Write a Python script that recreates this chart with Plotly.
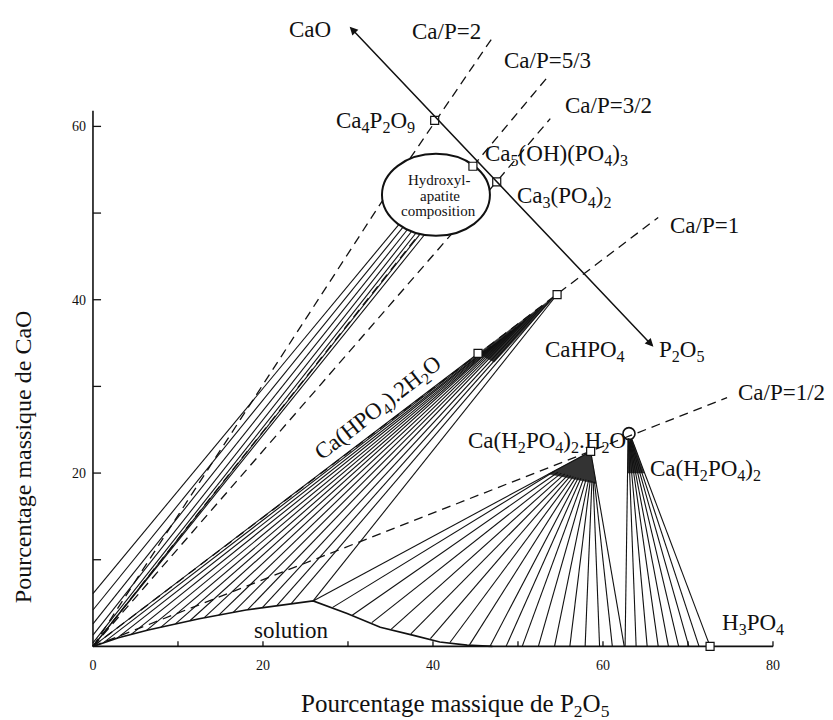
import plotly.graph_objects as go

FONT = "Liberation Serif"

# ---------------- axes -----------------
x_axis_end = 80
y_axis_end = 61.8
x_tick_vals = [0, 10, 20, 30, 40, 50, 60, 70, 80]
x_tick_text = ["0", "", "20", "", "40", "", "60", "", "80"]
y_tick_vals = [0, 10, 20, 30, 40, 50, 60]
y_tick_text = ["", "", "20", "", "40", "", "60"]

# ---------------- solution boundary (wt% P2O5, wt% CaO) -----------------
sol_x = [0, 3, 6.5, 12.5, 18, 22.5, 25.9, 29.9, 33.8, 37.6, 40.8, 44, 47]
sol_y = [0, 1.0, 1.9, 3.2, 4.2, 4.8, 5.25, 3.8, 2.2, 1.3, 0.5, 0.15, 0]

# ---------------- solid phases -----------------
sq_names = ["Ca4P2O9", "Ca5(OH)(PO4)3", "Ca3(PO4)2", "CaHPO4", "CaHPO4.2H2O",
            "Ca(H2PO4)2.H2O", "H3PO4"]
sq_x = [40.2, 44.7, 47.5, 54.6, 45.3, 58.55, 72.6]
sq_y = [60.7, 55.4, 53.6, 40.6, 33.8, 22.5, 0]
circ_x = [63.06]
circ_y = [24.55]

# CaO -> P2O5 composition axis (arrow ends)
cao_end = [30.2, 71.5]
p2o5_end = [66.1, 34.4]

# Ca/P ratio lines (segments separated by None)
cap2_x = [0, 34.1, None, 37.3, 46.9]
cap2_y = [0, 51.5, None, 56.3, 70.1]
cap53_x = [0, 38.4, None, 44.7, 53.4]
cap53_y = [0, 47.6, None, 55.4, 65.6]
cap32_x = [0, 42.2, None, 46.6, 53.8]
cap32_y = [0, 47.6, None, 52.6, 60.9]
cap1_x = [0, 66.5]
cap1_y = [0, 49.5]
cap12_x = [0, 74.6]
cap12_y = [0, 28.7]

# hydroxyapatite composition zone (ellipse)
hap_center = [40.35, 52.1]
hap_radii = [6.35, 4.73]

# tie lines to hydroxyapatite
hap_x0 = [0, 0, 0, 0, 0, 0, 0]
hap_y0 = [6.1, 4.2, 2.6, 1.3, 0.4, 0, 0]
hap_x1 = [36.0, 36.5, 37.0, 37.5, 38.0, 38.5, 39.0]
hap_y1 = [48.7, 48.4, 48.1, 47.9, 47.7, 47.6, 47.5]

# tie lines to CaHPO4.2H2O / CaHPO4
f1_x0 = [0, 1.2, 2.8, 4.5, 6.3, 8.0, 9.7, 11.4, 13.1, 14.8, 16.5, 18.2, 19.9, 21.6, 23.3, 25.9]
f1_y0 = [0, 0.4, 0.93, 1.39, 1.85, 2.22, 2.59, 2.96, 3.31, 3.62, 3.93, 4.23, 4.45, 4.68, 4.91, 5.25]
f1_x1 = [45.3, 45.7, 46.2, 46.8, 47.4, 48.0, 48.6, 49.2, 49.8, 50.4, 51.0, 51.6, 52.3, 53.0, 53.8, 54.6]
f1_y1 = [33.8, 33.95, 34.2, 34.6, 35.0, 35.45, 35.9, 36.4, 36.85, 37.3, 37.8, 38.3, 38.8, 39.35, 39.95, 40.6]
w1_x = [45.3, 54.6, 47.2, 45.3]
w1_y = [33.8, 40.6, 32.8, 33.8]

# tie lines to Ca(H2PO4)2.H2O
f2_x0 = [25.9, 28.2, 30.5, 32.8, 35.1, 37.4, 39.7, 42.0, 44.3, 46.7, 48.6, 50.5, 52.4, 54.3, 56.1, 57.9, 59.6, 61.1, 62.5]
f2_y0 = [5.25, 4.5, 3.6, 2.75, 2.0, 1.45, 0.9, 0.45, 0.18, 0, 0, 0, 0, 0, 0, 0, 0, 0, 0]
f2_x1 = [58.55, 54.3, 54.7, 55.1, 55.5, 55.9, 56.2, 56.5, 56.8, 57.1, 57.4, 57.7, 58.0, 58.3, 58.5, 58.7, 58.85, 59.0, 58.55]
f2_y1 = [22.5, 20.2, 20.1, 20.0, 19.9, 19.8, 19.7, 19.6, 19.5, 19.45, 19.4, 19.3, 19.25, 19.2, 19.15, 19.1, 19.0, 19.0, 22.5]
w2_x = [58.55, 53.6, 59.2, 58.55]
w2_y = [22.5, 19.9, 18.8, 22.5]

# tie lines to Ca(H2PO4)2
f3_x0 = [62.6, 63.9, 65.2, 66.5, 67.7, 68.9, 70.1, 71.3, 72.6]
f3_y0 = [0, 0, 0, 0, 0, 0, 0, 0, 0]
f3_x1 = [62.95, 63.0, 63.05, 63.1, 63.15, 63.2, 63.25, 63.3, 63.4]
f3_y1 = [24.0, 23.7, 23.6, 23.6, 23.6, 23.7, 23.8, 23.85, 23.9]
w3_x = [62.95, 63.4, 64.85, 62.9, 62.95]
w3_y = [24.0, 23.9, 20.0, 20.0, 24.0]


def segs(x0, y0, x1, y1):
    xs, ys = [], []
    for a, b, c, d in zip(x0, y0, x1, y1):
        xs += [a, c, None]
        ys += [b, d, None]
    return xs, ys


fig = go.Figure()
BLACK = "#111111"

# dark wedges
for wx, wy in [(w1_x, w1_y), (w2_x, w2_y), (w3_x, w3_y)]:
    fig.add_trace(go.Scatter(x=wx, y=wy, mode="lines", fill="toself",
                             fillcolor="#333333", line=dict(color="#333333", width=0.5),
                             hoverinfo="skip", showlegend=False))

# tie lines
for grp in [(hap_x0, hap_y0, hap_x1, hap_y1), (f1_x0, f1_y0, f1_x1, f1_y1),
            (f2_x0, f2_y0, f2_x1, f2_y1), (f3_x0, f3_y0, f3_x1, f3_y1)]:
    xs, ys = segs(*grp)
    fig.add_trace(go.Scatter(x=xs, y=ys, mode="lines",
                             line=dict(color=BLACK, width=1.1),
                             hoverinfo="skip", showlegend=False))

# Ca/P dashed lines
for lx, ly in [(cap2_x, cap2_y), (cap53_x, cap53_y), (cap32_x, cap32_y),
               (cap1_x, cap1_y), (cap12_x, cap12_y)]:
    fig.add_trace(go.Scatter(x=lx, y=ly, mode="lines",
                             line=dict(color=BLACK, width=1.3, dash="9px,6px"),
                             hoverinfo="skip", showlegend=False))

# solution boundary
fig.add_trace(go.Scatter(x=sol_x, y=sol_y, mode="lines",
                         line=dict(color=BLACK, width=1.6),
                         hoverinfo="skip", showlegend=False))

# axes lines and ticks
fig.add_trace(go.Scatter(x=[0, x_axis_end, None, 0, 0], y=[0, 0, None, 0, y_axis_end],
                         mode="lines", line=dict(color=BLACK, width=1.6),
                         hoverinfo="skip", showlegend=False))
tx, ty = segs(x_tick_vals[1:], [0] * 8, x_tick_vals[1:], [0.6] * 8)
tx2, ty2 = segs([0] * 6, y_tick_vals[1:], [0.95] * 6, y_tick_vals[1:])
fig.add_trace(go.Scatter(x=tx + tx2, y=ty + ty2, mode="lines",
                         line=dict(color=BLACK, width=1.3),
                         hoverinfo="skip", showlegend=False))

# phase points
fig.add_trace(go.Scatter(x=sq_x, y=sq_y, mode="markers", text=sq_names,
                         marker=dict(symbol="square", size=8, color="white",
                                     line=dict(color=BLACK, width=1.2)),
                         cliponaxis=False, showlegend=False))
fig.add_trace(go.Scatter(x=circ_x, y=circ_y, mode="markers",
                         marker=dict(symbol="circle", size=12, color="rgba(255,255,255,0)",
                                     line=dict(color=BLACK, width=1.6)),
                         cliponaxis=False, showlegend=False))

shapes = [dict(type="circle", xref="x", yref="y", layer="below",
               x0=hap_center[0] - hap_radii[0], x1=hap_center[0] + hap_radii[0],
               y0=hap_center[1] - hap_radii[1], y1=hap_center[1] + hap_radii[1],
               line=dict(color=BLACK, width=2), fillcolor="white")]

LBL = 23
labels = [
    ("CaO", 28.2, 71.2, "right"),
    ("Ca/P=2", 41.6, 71.0, "center"),
    ("Ca/P=5/3", 53.5, 67.6, "center"),
    ("Ca/P=3/2", 60.6, 62.4, "center"),
    ("Ca<sub>4</sub>P<sub>2</sub>O<sub>9</sub>", 38.1, 60.5, "right"),
    ("Ca<sub>5</sub>(OH)(PO<sub>4</sub>)<sub>3</sub>", 45.9, 56.7, "left"),
    ("Ca<sub>3</sub>(PO<sub>4</sub>)<sub>2</sub>", 49.6, 51.8, "left"),
    ("Ca/P=1", 67.6, 48.6, "left"),
    ("CaHPO<sub>4</sub>", 52.9, 34.1, "left"),
    ("P<sub>2</sub>O<sub>5</sub>", 66.4, 34.1, "left"),
    ("Ca/P=1/2", 75.6, 29.3, "left"),
    ("Ca(H<sub>2</sub>PO<sub>4</sub>)<sub>2</sub>.H<sub>2</sub>O", 43.9, 23.6, "left"),
    ("Ca(H<sub>2</sub>PO<sub>4</sub>)<sub>2</sub>", 65.3, 20.4, "left"),
    ("H<sub>3</sub>PO<sub>4</sub>", 73.8, 2.6, "left"),
    ("solution", 23.4, 1.8, "center"),
]
ann = []
for t, x, y, xa in labels:
    ann.append(dict(text=t, x=x, y=y, xref="x", yref="y", xanchor=xa, yanchor="middle",
                    showarrow=False, font=dict(family=FONT, size=LBL, color=BLACK)))

ann.append(dict(text="Ca(HPO<sub>4</sub>).2H<sub>2</sub>O", x=33.6, y=27.4, xref="x", yref="y",
                showarrow=False, textangle=-38, font=dict(family=FONT, size=LBL, color=BLACK)))

for t, x, y in [("Hydroxyl-", 40.8, 53.85), ("apatite", 40.8, 52.0), ("composition", 40.6, 50.2)]:
    ann.append(dict(text=t, x=x, y=y, xref="x", yref="y", showarrow=False,
                    font=dict(family=FONT, size=15, color=BLACK)))

# CaO - P2O5 axis with arrowheads
ann.append(dict(x=cao_end[0], y=cao_end[1], ax=p2o5_end[0], ay=p2o5_end[1],
                xref="x", yref="y", axref="x", ayref="y", text="", showarrow=True,
                arrowhead=2, arrowside="end+start", arrowsize=1.1, arrowwidth=1.5,
                arrowcolor=BLACK))

# axis titles
ann.append(dict(text="Pourcentage massique de P<sub>2</sub>O<sub>5</sub>", x=0.524, y=-0.09,
                xref="paper", yref="paper", showarrow=False, yanchor="middle",
                font=dict(family=FONT, size=25, color=BLACK)))
ann.append(dict(text="Pourcentage massique de CaO", x=-0.097, y=0.308, xref="paper",
                yref="paper", showarrow=False, textangle=-90, xanchor="center",
                yanchor="middle", font=dict(family=FONT, size=24, color=BLACK)))

fig.update_layout(
    width=833, height=720,
    margin=dict(l=82, r=54, t=17, b=79),
    paper_bgcolor="white", plot_bgcolor="white",
    shapes=shapes, annotations=ann, showlegend=False,
    xaxis=dict(range=[-0.35, 81.65], showgrid=False, zeroline=False, showline=False,
               ticks="", tickvals=x_tick_vals, ticktext=x_tick_text,
               ticklabelstandoff=6, automargin=False,
               tickfont=dict(family=FONT, size=14, color=BLACK)),
    yaxis=dict(range=[-0.3, 71.7], showgrid=False, zeroline=False, showline=False,
               ticks="", tickvals=y_tick_vals, ticktext=y_tick_text,
               ticklabelstandoff=3, automargin=False,
               tickfont=dict(family=FONT, size=14, color=BLACK)),
)

fig.write_html("out.html")
